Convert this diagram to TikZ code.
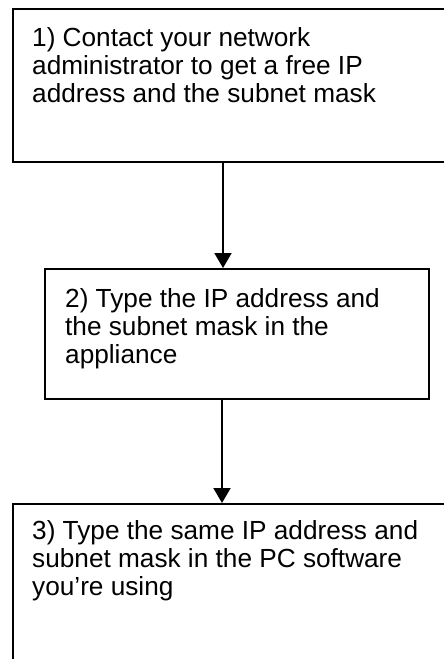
\documentclass[tikz,border=0pt]{standalone}
\usepackage{fontspec}
\setmainfont{Liberation Sans}
\usepackage{tikz}
\usetikzlibrary{arrows.meta,positioning,calc}

\begin{document}
\begin{tikzpicture}[x=1pt,y=-1pt,>=Stealth,
    stepbox/.style={draw,rectangle,anchor=north west,inner sep=0pt},
    steptext/.style={anchor=base west,align=left,inner sep=0pt,
        font=\fontsize{26.2}{28}\selectfont},
    flow/.style={line width=2pt,-{Triangle[width=17pt,length=15pt]}}]

    \useasboundingbox (0,0) rectangle (444,659);
    \clip (0,0) rectangle (444,659);

    % Boxes
    \node[stepbox,line width=2pt,minimum width=458pt,minimum height=153pt] (s1) at (12,8) {};
    \node[stepbox,line width=1.5pt,minimum width=384pt,minimum height=130pt] (s2) at (44,268) {};
    \node[stepbox,line width=2pt,minimum width=458pt,minimum height=190pt] (s3) at (12,503) {};

    % Step texts (anchored on the last line)
    \node[steptext] (t1) at ([xshift=20pt,yshift=-94.7pt]s1.north west)
        {1) Contact your network\\administrator to get a free IP\\address and the subnet mask};
    \node[steptext] (t2) at ([xshift=21pt,yshift=-95pt]s2.north west)
        {2) Type the IP address and\\the subnet mask in the\\appliance};
    \node[steptext] (t3) at ([xshift=20pt,yshift=-92pt]s3.north west)
        {3) Type the same IP address and\\subnet mask in the PC software\\you’re using};

    % Arrows
    \coordinate (a1) at ([xshift=211pt]s1.south west);
    \coordinate (a2) at ([xshift=178pt]s2.south west);
    \draw[flow] (a1) -- (a1 |- s2.north);
    \draw[flow] (a2) -- (a2 |- s3.north);

\end{tikzpicture}
\end{document}
